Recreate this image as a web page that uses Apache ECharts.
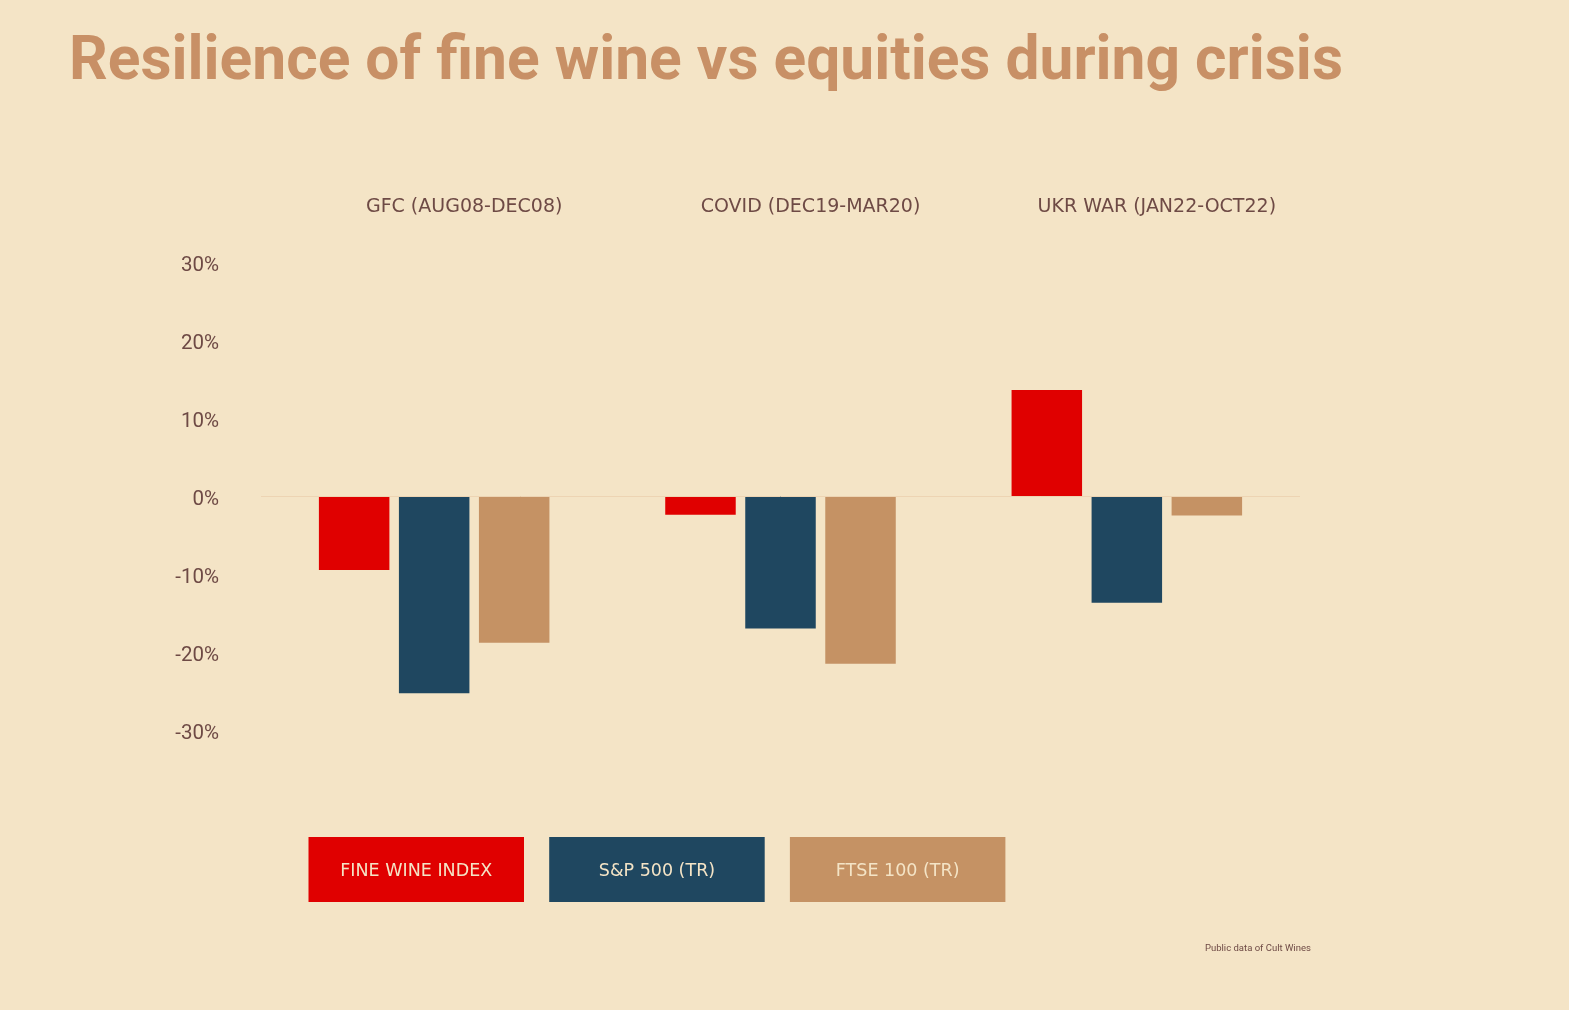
<!DOCTYPE html>
<html>
<head>
<meta charset="utf-8">
<script src="https://cdn.jsdelivr.net/npm/echarts@6/dist/echarts.min.js"></script>
<style>
  html, body { margin: 0; padding: 0; background: #F4E4C6; }
  #chart { width: 1569px; height: 1010px; }
</style>
</head>
<body>
<div id="chart"></div>
<script>
// ---- data ----
const categories = ['GFC (AUG08-DEC08)', 'COVID (DEC19-MAR20)', 'UKR WAR (JAN22-OCT22)'];
const seriesNames = ['FINE WINE INDEX', 'S&P 500 (TR)', 'FTSE 100 (TR)'];
const fineWine = [-9.5, -2.4, 13.6];
const sp500 = [-25.3, -17.0, -13.7];
const ftse100 = [-18.8, -21.5, -2.5];
const yTicks = [-30, -20, -10, 0, 10, 20, 30];
const titleText = 'Resilience of fine wine vs equities during crisis';
const sourceText = 'Public data of Cult Wines';

const colors = ['#E00000', '#1F4760', '#C59264'];
const bg = '#F4E4C6';
const textBrown = '#6E4A45';

const chart = echarts.init(document.getElementById('chart'));

const seriesData = [fineWine, sp500, ftse100];
const series = seriesNames.map((name, i) => {
  const s = {
    name: name,
    type: 'bar',
    data: seriesData[i],
    barWidth: 70.5,
    barGap: '13.5%',
    itemStyle: { color: colors[i] },
    emphasis: { disabled: true },
    silent: true
  };
  if (i === 0) {
    s.markLine = {
      silent: true,
      symbol: 'none',
      label: { show: false },
      lineStyle: { color: '#EDD4B3', width: 1, type: 'solid' },
      data: [{ yAxis: 0 }]
    };
  }
  return s;
});

// legend boxes (custom, text inside coloured blocks)
const legendGraphics = seriesNames.map((name, i) => ({
  type: 'group',
  left: 308.5 + i * 240.7,
  top: 837,
  children: [
    { type: 'rect', shape: { x: 0, y: 0, width: 215.5, height: 65 }, style: { fill: colors[i] } },
    {
      type: 'text',
      x: 107.75, y: 34,
      style: {
        text: name,
        fill: '#F4E4C6',
        font: '17.5px "DejaVu Sans"',
        align: 'center',
        verticalAlign: 'middle'
      }
    }
  ]
}));

const option = {
  backgroundColor: bg,
  animation: false,
  title: {
    text: titleText,
    left: 64,
    top: 28,
    textStyle: {
      fontFamily: 'Roboto',
      fontWeight: 'bold',
      fontSize: 60.5,
      color: '#C89066'
    }
  },
  grid: { left: 261, right: 269, top: 262, bottom: 280 },
  xAxis: {
    type: 'category',
    position: 'top',
    data: categories,
    axisLine: { show: false },
    axisTick: { show: false },
    splitLine: { show: false },
    axisLabel: {
      margin: 45,
      padding: [0, 0, 0, 60],
      fontFamily: 'DejaVu Sans',
      fontSize: 19,
      color: textBrown,
      interval: 0
    }
  },
  yAxis: {
    type: 'value',
    min: yTicks[0],
    max: yTicks[yTicks.length - 1],
    interval: 10,
    axisLine: { show: false },
    axisTick: { show: false },
    splitLine: { show: false },
    axisLabel: {
      margin: 42,
      verticalAlign: 'top',
      lineHeight: 8,
      fontFamily: 'Roboto',
      fontSize: 20.5,
      color: textBrown,
      formatter: v => v + '%'
    }
  },
  graphic: legendGraphics.concat([
    {
      type: 'text',
      left: 1205,
      top: 944,
      style: {
        text: sourceText,
        fill: textBrown,
        font: '9.5px Roboto'
      }
    }
  ]),
  series: series
};

chart.setOption(option);
</script>
</body>
</html>
